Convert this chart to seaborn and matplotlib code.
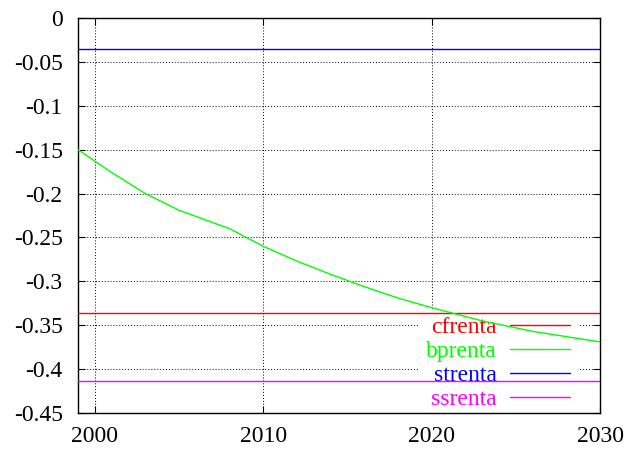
import matplotlib
matplotlib.use("Agg")
import matplotlib.pyplot as plt
import seaborn as sns
import pandas as pd

# =========================================
# DATA
# =========================================

years_range = [1999, 2030]

bp_years = [1999, 2001, 2003, 2005, 2008, 2010, 2012, 2014, 2016, 2018, 2020, 2023, 2026, 2030]
bp_values = [-0.150, -0.176, -0.200, -0.219, -0.240, -0.260, -0.277, -0.292, -0.306, -0.319, -0.330, -0.345, -0.357, -0.369]

cfrenta = -0.336
strenta = -0.035
ssrenta = -0.4135

x_ticks = [2000, 2010, 2020, 2030]
y_ticks = [0, -0.05, -0.1, -0.15, -0.2, -0.25, -0.3, -0.35, -0.4, -0.45]
y_tick_labels = ["0", "-0.05", "-0.1", "-0.15", "-0.2", "-0.25", "-0.3", "-0.35", "-0.4", "-0.45"]

series_names = ["cfrenta", "bprenta", "strenta", "ssrenta"]
series_colors = ["#ff0000", "#00ff00", "#0000ff", "#ff00ff"]

# =========================================
# BUILD TABLE
# =========================================

rows = []
for y in years_range:
    rows.append({"year": y, "value": cfrenta, "series": "cfrenta"})
for y, v in zip(bp_years, bp_values):
    rows.append({"year": y, "value": v, "series": "bprenta"})
for y in years_range:
    rows.append({"year": y, "value": strenta, "series": "strenta"})
for y in years_range:
    rows.append({"year": y, "value": ssrenta, "series": "ssrenta"})
df = pd.DataFrame(rows)

# =========================================
# PLOT
# =========================================

sns.set_style("ticks")
plt.rcParams["font.family"] = ["Liberation Serif", "DejaVu Serif"]

fig = plt.figure(figsize=(6.26, 4.51), dpi=100)
ax = fig.add_axes([78 / 626, 38 / 451, 522 / 626, 395 / 451])

sns.lineplot(
    data=df, x="year", y="value", hue="series",
    hue_order=series_names, palette=series_colors,
    linewidth=1, ax=ax, zorder=3, sort=True, estimator=None,
)

ax.set_xlim(1999, 2030)
ax.set_ylim(-0.45, 0)
ax.set_xticks(x_ticks)
ax.set_yticks(y_ticks)
ax.set_yticklabels(y_tick_labels)
ax.set_xlabel("")
ax.set_ylabel("")

ax.set_axisbelow(True)
ax.grid(True, color="black", linestyle=(0, (1, 2)), linewidth=0.7)
ax.tick_params(direction="in", length=5, width=0.8, top=True, right=True,
               labelsize=17, colors="black")
ax.tick_params(axis="x", pad=9)
ax.tick_params(axis="y", pad=11)
for s in ax.spines.values():
    s.set_linewidth(1.0)
    s.set_color("black")

handles, labels = ax.get_legend_handles_labels()
leg = ax.legend(
    handles, labels, loc="lower right", bbox_to_anchor=(0.956, -0.01),
    markerfirst=False, frameon=True, fancybox=False, framealpha=1,
    edgecolor="white", facecolor="white", fontsize=17,
    handlelength=2.55, handletextpad=0.55, labelspacing=0.1,
    borderpad=0.3, borderaxespad=0.0,
)
leg.set_zorder(2)
for t, c in zip(leg.get_texts(), series_colors):
    t.set_color(c)

fig.savefig("out.png", dpi=100)
plt.close()
